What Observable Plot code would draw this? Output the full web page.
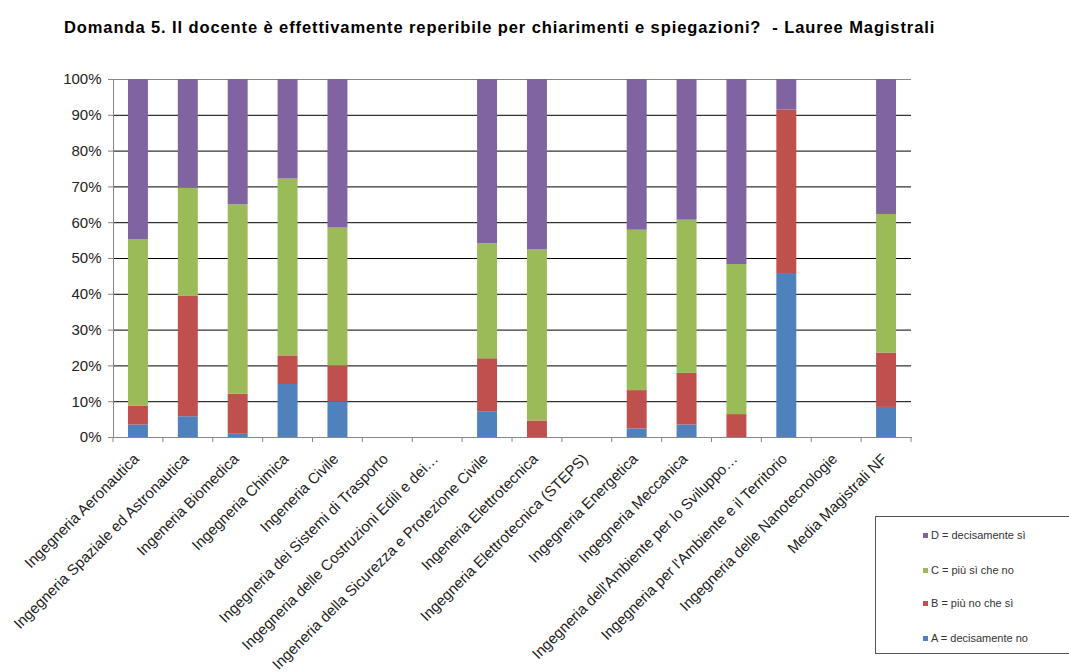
<!DOCTYPE html>
<html><head><meta charset="utf-8">
<script src="https://cdn.jsdelivr.net/npm/d3@7"></script>
<script src="https://cdn.jsdelivr.net/npm/@observablehq/plot@0.6"></script>
<style>
body{margin:0;background:#fff;overflow:hidden;font-family:"Liberation Sans",Arial,sans-serif;}
#wrap{position:relative;width:1069px;height:672px;overflow:hidden;}
#title{position:absolute;left:64px;top:17.5px;font-weight:bold;font-size:16.5px;letter-spacing:0.9px;color:#000;white-space:nowrap;}
#chart{position:absolute;left:0;top:50px;}
#legend{position:absolute;left:875px;top:516px;width:220px;height:138px;border:1px solid #555;box-sizing:border-box;background:#fff;}
.item{position:absolute;left:47px;font-size:11px;color:#333;white-space:nowrap;line-height:14px;height:14px;}
.sw{display:inline-block;width:5px;height:5px;margin-right:3px;vertical-align:1px;}
</style>
</head><body>
<div id="wrap">
<div id="title">Domanda 5. Il docente è effettivamente reperibile per chiarimenti e spiegazioni?&nbsp; - Lauree Magistrali</div>
<div id="chart"></div>
<div id="legend"></div>
</div>
<script>
const categories = [
  "Ingegneria Aeronautica",
  "Ingegneria Spaziale ed Astronautica",
  "Ingeneria Biomedica",
  "Ingegneria Chimica",
  "Ingeneria Civile",
  "Ingegneria dei Sistemi di Trasporto",
  "Ingegneria delle Costruzioni Edili e dei…",
  "Ingeneria della Sicurezza e Protezione Civile",
  "Ingeneria Elettrotecnica",
  "Ingegneria Elettrotecnica (STEPS)",
  "Ingegneria Energetica",
  "Ingegneria Meccanica",
  "Ingegneria dell'Ambiente per lo Sviluppo…",
  "Ingegneria per l'Ambiente e il Territorio",
  "Ingegneria delle Nanotecnologie",
  "Media Magistrali NF"
];
const seriesKeys = ["A", "B", "C", "D"];
const seriesLabels = ["A = decisamente no", "B = più no che sì", "C = più sì che no", "D = decisamente sì"];
const seriesColors = ["#4F81BD", "#C0504D", "#9BBB59", "#8064A2"];
const valuesA = [3.5, 5.8, 0.9, 14.8, 10.0, 0, 0, 7.2, 0, 0, 2.4, 3.5, 0, 45.8, 0, 8.4];
const valuesB = [5.2, 33.6, 11.2, 8.0, 10.0, 0, 0, 14.8, 4.6, 0, 10.7, 14.4, 6.4, 45.7, 0, 15.2];
const valuesC = [46.6, 30.2, 52.9, 49.4, 38.5, 0, 0, 32.1, 47.8, 0, 44.8, 42.8, 41.9, 0, 0, 38.7];
const valuesD = [44.7, 30.4, 35.0, 27.8, 41.5, 0, 0, 45.9, 47.6, 0, 42.1, 39.3, 51.7, 8.5, 0, 37.7];
const yTicks = [0, 10, 20, 30, 40, 50, 60, 70, 80, 90, 100];
const gridTicks = [10, 20, 30, 40, 50, 60, 70, 80, 90];

const seriesValues = [valuesA, valuesB, valuesC, valuesD];
const table = [];
categories.forEach((c, i) => seriesKeys.forEach((k, j) => table.push({cat: c, key: k, value: seriesValues[j][i]})));

const axisColor = "#868686";

function boundaryTicks(index, scales, values, dims) {
  const x = scales.x, y = scales.y;
  const bw = x.bandwidth(), step = x.step();
  const y0 = y(0);
  const g = d3.create("svg:g").attr("stroke", axisColor).attr("stroke-width", 1);
  const edges = categories.map(c => x(c) - (step - bw) / 2);
  edges.push(x(categories[categories.length - 1]) + bw + (step - bw) / 2);
  for (const e of edges) g.append("line").attr("x1", e).attr("x2", e).attr("y1", y0).attr("y2", y0 + 5);
  return g.node();
}

const chart = Plot.plot({
  width: 1069,
  height: 622,
  marginLeft: 113,
  marginRight: 158,
  marginTop: 29,
  marginBottom: 235,
  style: {fontFamily: '"Liberation Sans", Arial, sans-serif', color: "#222", background: "transparent"},
  x: {domain: categories, paddingInner: 0.6, paddingOuter: 0.3, round: false, label: null},
  y: {domain: [0, 100], label: null},
  color: {domain: seriesKeys, range: seriesColors},
  marks: [
    Plot.ruleY(gridTicks, {stroke: "#000", strokeWidth: 1}),
    Plot.ruleY([100], {stroke: axisColor}),
    Plot.barY(table, Plot.stackY({x: "cat", y: "value", fill: "key", order: seriesKeys})),
    Plot.frame({anchor: "left", stroke: axisColor}),
    Plot.frame({anchor: "bottom", stroke: axisColor}),
    boundaryTicks,
    Plot.axisY({ticks: yTicks, tickFormat: d => d + "%", tickSize: 5, tickPadding: 7, fontSize: 15, stroke: axisColor, fill: "#222"}),
    Plot.axisX({tickSize: 0, tickRotate: -45, tickPadding: 19, dx: -2, fontSize: 15, fill: "#222"})
  ]
});
document.getElementById("chart").appendChild(chart);

const legend = document.getElementById("legend");
const ys = [18, 53, 86, 121];
[3, 2, 1, 0].forEach((j, r) => {
  const d = document.createElement("div");
  d.className = "item";
  d.style.top = (ys[r] - 7) + "px";
  d.innerHTML = `<span class="sw" style="background:${seriesColors[j]}"></span>${seriesLabels[j]}`;
  legend.appendChild(d);
});
</script>
</body></html>
